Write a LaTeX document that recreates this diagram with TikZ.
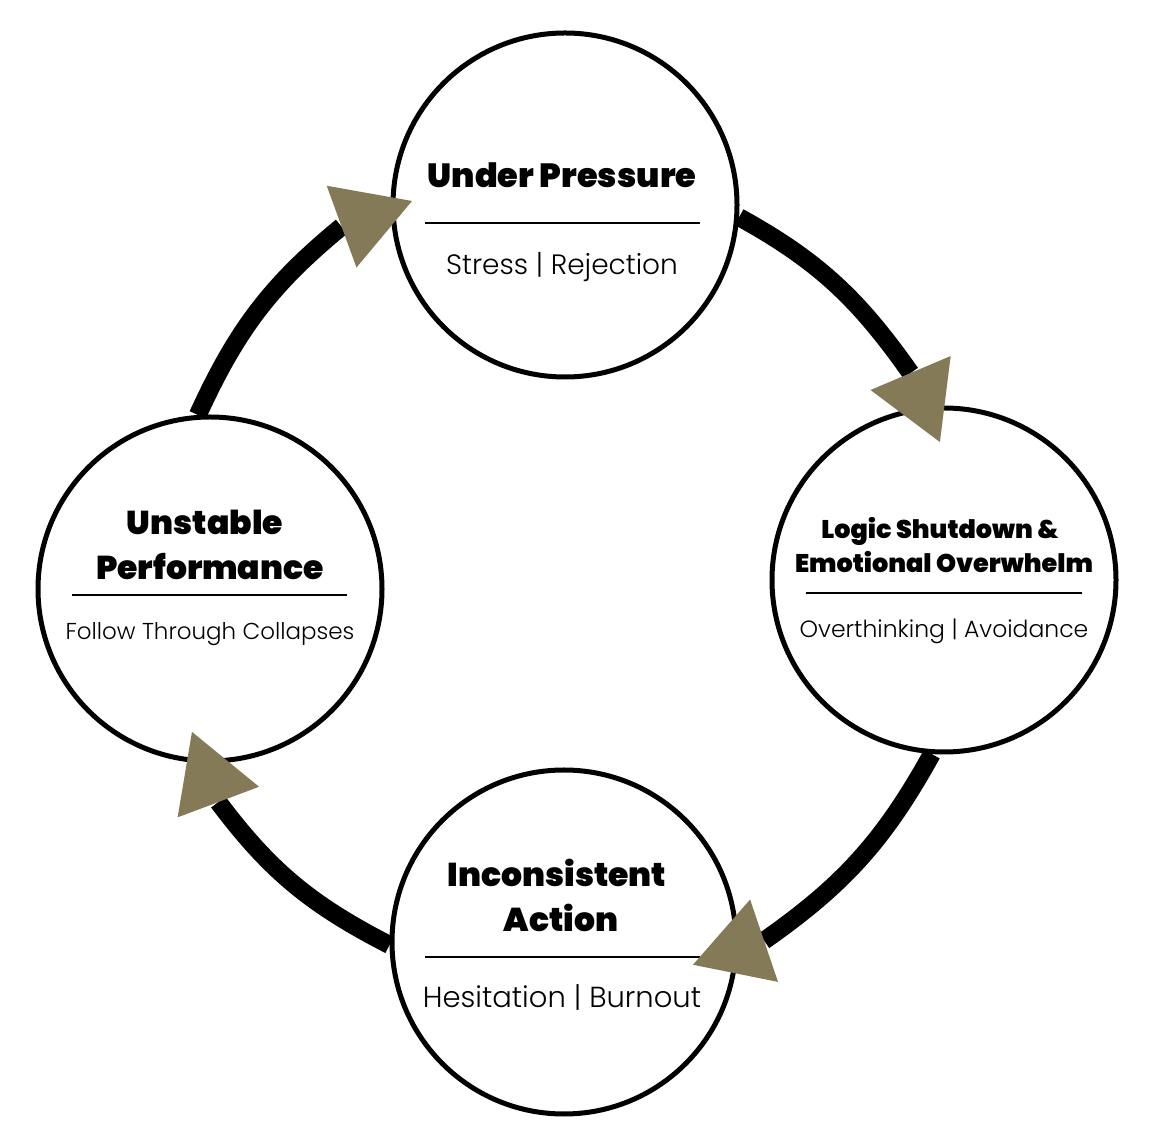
\documentclass[tikz,border=0pt]{standalone}
\usepackage{fontspec}
\setmainfont{Poppins}
\newfontfamily\headfont{Poppins Black}
\newfontfamily\subfont{Poppins Light}
\usetikzlibrary{arrows.meta,calc}
\definecolor{arrowolive}{RGB}{133,122,88}
\begin{document}
\begin{tikzpicture}[x=1pt,y=1pt,
  stage/.style={circle,draw=black,line width=5pt,fill=white,minimum size=344pt,inner sep=0pt},
  head/.style={anchor=base,inner sep=0pt,font=\headfont\fontsize{#1}{#1}\selectfont},
  sub/.style={anchor=base,inner sep=0pt,font=\subfont\fontsize{#1}{#1}\selectfont},
  rule/.style={line width=2pt,draw=black},
  ring/.style={line width=18pt,draw=black,line join=round,-{Triangle[length=75pt,width=87pt,line width=0pt,color=arrowolive]}}]
\useasboundingbox[fill=white] (0,0) rectangle (1156,1143);
% stages
\node[stage] (T) at (565,938) {};
\node[stage] (R) at (944,563) {};
\node[stage] (B) at (564,201) {};
\node[stage] (L) at (210,554) {};
% top
\node[head=33.5] (t1) at (562,955) {Under Pressure};
\draw[rule] (425,920) -- (700,920);
\node[sub=28] (t2) at (562,868) {Stress | Rejection};
% right
\node[head=25.5] (r1) at (940,604) {Logic Shutdown \&};
\node[head=25.5] (r2) at (944,570.3) {Emotional Overwhelm};
\draw[rule] (806,550) -- (1082,550);
\node[sub=23.5] (r3) at (944,505.3) {Overthinking | Avoidance};
% left
\node[head=33] (l1) at (205,608) {Unstable};
\node[head=33] (l2) at (210,563) {Performance};
\draw[rule] (72,548) -- (347,548);
\node[sub=23] (l3) at (210,503) {Follow Through Collapses};
% bottom
\node[head=33] (b1) at (557,256.3) {Inconsistent};
\node[head=33] (b2) at (561,211) {Action};
\draw[rule] (425,186) -- (700,186);
\node[sub=29] (b3) at (562,135) {Hesitation | Burnout};
% tips and bases of the arrowheads
\coordinate (tipLT) at ($(T.center)+(178.5:153pt)$);
\coordinate (tipTR) at ($(R.center)+(91.7:138pt)$);
\coordinate (tipRB) at ($(B.center)+(-10:131pt)$);
\coordinate (tipBL) at ($(L.center)+(262.8:144pt)$);
\coordinate (baseLT) at ($(tipLT)+(200:75pt)$);
\coordinate (baseTR) at ($(tipTR)+(113:75pt)$);
\coordinate (baseRB) at ($(tipRB)+(18.7:75pt)$);
\coordinate (baseBL) at ($(tipBL)+(290.6:75pt)$);
% ring arcs
\draw[ring] (L.94.4) to[out=65.4,in=219.4] (baseLT) -- (tipLT);
\draw[ring] (T.-4.7) to[out=-28.85,in=125.15] (baseTR) -- (tipTR);
\draw[ring] (R.266) to[out=241,in=35] (baseRB) -- (tipRB);
\draw[ring] (B.181.6) to[out=152.8,in=306.8] (baseBL) -- (tipBL);
\end{tikzpicture}
\end{document}
